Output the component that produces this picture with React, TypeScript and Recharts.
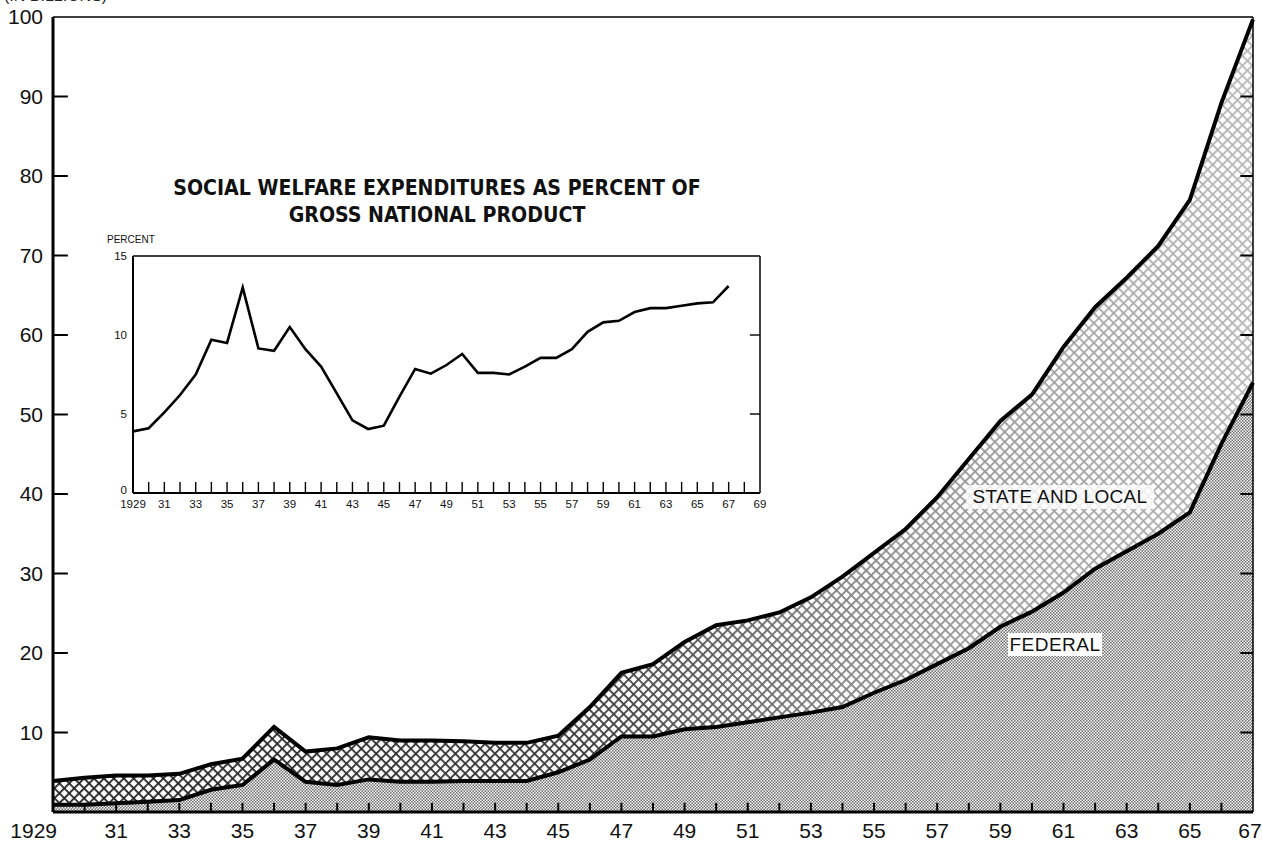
import React from 'react';
import {
  ComposedChart,
  LineChart,
  Area,
  Line,
  XAxis,
  YAxis,
  ReferenceLine,
} from 'recharts';

// 1929 .. 1967
const YEARS = [
  1929, 1930, 1931, 1932, 1933, 1934, 1935, 1936, 1937, 1938, 1939, 1940, 1941,
  1942, 1943, 1944, 1945, 1946, 1947, 1948, 1949, 1950, 1951, 1952, 1953, 1954,
  1955, 1956, 1957, 1958, 1959, 1960, 1961, 1962, 1963, 1964, 1965, 1966, 1967,
];

// billions of dollars, federal + state and local
const TOTAL = [
  3.9, 4.3, 4.6, 4.6, 4.8, 6.0, 6.7, 10.7, 7.6, 8.0, 9.4, 9.0, 9.0, 8.9, 8.7,
  8.7, 9.6, 13.2, 17.5, 18.6, 21.4, 23.5, 24.1, 25.1, 27.0, 29.6, 32.6, 35.6,
  39.6, 44.4, 49.2, 52.5, 58.5, 63.5, 67.2, 71.2, 77.0, 89.2, 99.7,
];

const FEDERAL = [
  0.9, 0.9, 1.1, 1.3, 1.5, 2.8, 3.4, 6.6, 3.8, 3.4, 4.1, 3.8, 3.8, 3.9, 3.9,
  3.9, 5.0, 6.6, 9.5, 9.5, 10.4, 10.7, 11.3, 11.9, 12.5, 13.2, 15.0, 16.6, 18.6,
  20.6, 23.3, 25.2, 27.6, 30.6, 32.8, 35.0, 37.7, 46.3, 54.0,
];

// inset: percent of GNP
const GNP_PCT = [
  3.9, 4.1, 5.1, 6.2, 7.5, 9.7, 9.5, 13.0, 9.15, 9.0, 10.5, 9.1, 8.0, 6.3, 4.6,
  4.05, 4.26, 6.1, 7.85, 7.55, 8.1, 8.8, 7.6, 7.6, 7.5, 8.0, 8.55, 8.55, 9.1,
  10.2, 10.8, 10.9, 11.45, 11.7, 11.7, 11.85, 12.0, 12.07, 13.1,
];

const MAIN_Y_TICKS = [10, 20, 30, 40, 50, 60, 70, 80, 90, 100];
const MAIN_INNER_Y = [10, 20, 30, 40, 50, 60, 70, 80, 90];
const MAIN_INNER_X = YEARS.slice(1, -1);
const INSET_Y_TICKS = [0, 5, 10, 15];
const INSET_INNER_Y = [5, 10];
const INSET_X_TICKS = Array.from({ length: 41 }, (_, i) => 1929 + i);
const INSET_INNER_X = INSET_X_TICKS.slice(1, -1);

const mainData = YEARS.map((year, i) => ({
  year,
  total: TOTAL[i],
  federal: FEDERAL[i],
}));

const insetData = YEARS.map((year, i) => ({ year, pct: GNP_PCT[i] }));

const FONT = '"Liberation Sans", Arial, sans-serif';

function MainXTick(props: any) {
  const { x, y, payload } = props;
  const yr = payload.value as number;
  if (yr % 2 === 0) return <g />;
  let anchor: 'end' | 'middle' = 'middle';
  let tx = x;
  if (yr === 1929) {
    anchor = 'end';
    tx = x + 4;
  }
  if (yr === 1967) tx = x - 3;
  return (
    <text x={tx} y={y + 26} textAnchor={anchor} fontFamily={FONT} fontSize={21} fill="#111">
      {yr === 1929 ? '1929' : String(yr).slice(2)}
    </text>
  );
}

function MainYTick(props: any) {
  const { x, y, payload } = props;
  return (
    <text x={x - 10} y={y + 7} textAnchor="end" fontFamily={FONT} fontSize={21} fill="#111">
      {payload.value}
    </text>
  );
}

function InsetXTick(props: any) {
  const { x, y, payload } = props;
  const yr = payload.value as number;
  if (yr % 2 === 0) return <g />;
  return (
    <text x={x} y={y + 15} textAnchor="middle" fontFamily={FONT} fontSize={11.5} fill="#111">
      {yr === 1929 ? '1929' : String(yr).slice(2)}
    </text>
  );
}

function InsetYTick(props: any) {
  const { x, y, payload } = props;
  return (
    <text x={x - 6} y={y + (payload.value === 0 ? 1 : 4)} textAnchor="end" fontFamily={FONT} fontSize={11.5} fill="#111">
      {payload.value}
    </text>
  );
}

export default function App() {
  return (
    <div style={{ position: 'absolute', left: 0, top: 0, width: 1262, height: 842, background: '#fff', overflow: 'hidden' }}>
      <div
        style={{
          position: 'absolute',
          left: 4,
          top: -13,
          fontFamily: FONT,
          fontSize: 16,
          color: '#222',
        }}
      >
        (IN BILLIONS)
      </div>

      <ComposedChart
        width={1262}
        height={842}
        data={mainData}
        margin={{ top: 17, right: 9, bottom: 0, left: 0 }}
      >
        <defs>
          <pattern id="fedDots" width="3" height="3" patternUnits="userSpaceOnUse">
            <rect width="3" height="3" fill="#f8f8f8" />
            <rect x="0" y="0" width="1.5" height="1.5" fill="#6e6e6e" />
            <rect x="1.5" y="1.5" width="1.5" height="1.5" fill="#6e6e6e" />
          </pattern>
          <pattern
            id="crossHatch"
            width="7"
            height="7"
            patternUnits="userSpaceOnUse"
            patternTransform="rotate(45)"
          >
            <rect width="7" height="7" fill="#fff" />
            <rect x="0" y="0" width="7" height="1.8" fill="#222" />
            <rect x="0" y="0" width="1.8" height="7" fill="#222" />
          </pattern>
          <linearGradient id="fadeRight" x1="0" y1="0" x2="1" y2="0">
            <stop offset="0" stopColor="#fff" stopOpacity={0} />
            <stop offset="0.45" stopColor="#fff" stopOpacity={0.1} />
            <stop offset="0.7" stopColor="#fff" stopOpacity={0.5} />
            <stop offset="1" stopColor="#fff" stopOpacity={0.68} />
          </linearGradient>
        </defs>

        <XAxis
          dataKey="year"
          type="number"
          domain={[1929, 1967]}
          ticks={YEARS}
          interval={0}
          height={30}
          tickSize={0}
          tickMargin={0}
          tick={<MainXTick />}
          tickLine={false}
          axisLine={false}
        />
        <YAxis
          type="number"
          domain={[0, 100]}
          ticks={MAIN_Y_TICKS}
          interval={0}
          width={53}
          tickSize={0}
          tickMargin={0}
          tick={<MainYTick />}
          tickLine={false}
          axisLine={false}
        />

        <Area
          dataKey="federal"
          type="linear"
          stroke="none"
          fill="url(#fedDots)"
          fillOpacity={1}
          isAnimationActive={false}
        />
        <Area
          dataKey={(d: any) => [d.federal, d.total]}
          type="linear"
          stroke="none"
          fill="url(#crossHatch)"
          fillOpacity={1}
          isAnimationActive={false}
        />
        <Area
          dataKey={(d: any) => [d.federal, d.total]}
          type="linear"
          stroke="none"
          fill="url(#fadeRight)"
          fillOpacity={1}
          isAnimationActive={false}
        />
        <Line
          dataKey="total"
          type="linear"
          stroke="#000"
          strokeWidth={4}
          dot={false}
          isAnimationActive={false}
        />
        <Line
          dataKey="federal"
          type="linear"
          stroke="#000"
          strokeWidth={4}
          dot={false}
          isAnimationActive={false}
        />

        {/* frame */}
        <ReferenceLine y={100} stroke="#000" strokeWidth={1.5} />
        <ReferenceLine x={1967} stroke="#000" strokeWidth={1.5} />
        <ReferenceLine x={1929} stroke="#000" strokeWidth={3} />
        <ReferenceLine y={0} stroke="#000" strokeWidth={3} />

        {/* inward tick marks */}
        {MAIN_INNER_X.map((yr) => (
          <ReferenceLine
            key={`bx-${yr}`}
            segment={[{ x: yr, y: 0 }, { x: yr, y: 1.15 }]}
            stroke="#000"
            strokeWidth={2}
          />
        ))}
        {MAIN_INNER_Y.map((v) => (
          <ReferenceLine
            key={`ly-${v}`}
            segment={[{ x: 1929, y: v }, { x: 1929.47, y: v }]}
            stroke="#000"
            strokeWidth={2}
          />
        ))}
        {MAIN_INNER_Y.map((v) => (
          <ReferenceLine
            key={`ry-${v}`}
            segment={[{ x: 1966.6, y: v }, { x: 1967, y: v }]}
            stroke="#000"
            strokeWidth={2}
          />
        ))}
      </ComposedChart>

      <div
        style={{
          position: 'absolute',
          left: 1008,
          top: 633,
          width: 94,
          height: 23,
          background: '#fff',
          fontFamily: FONT,
          fontSize: 19,
          lineHeight: '23px',
          textAlign: 'center',
          letterSpacing: 0.5,
          color: '#111',
        }}
      >
        FEDERAL
      </div>
      <div
        style={{
          position: 'absolute',
          left: 966,
          top: 485,
          width: 188,
          height: 24,
          background: 'rgba(255,255,255,0.8)',
          fontFamily: FONT,
          fontSize: 19,
          lineHeight: '24px',
          textAlign: 'center',
          letterSpacing: 0.3,
          color: '#111',
        }}
      >
        STATE AND LOCAL
      </div>

      <div
        style={{
          position: 'absolute',
          left: 137,
          top: 174,
          width: 600,
          textAlign: 'center',
          fontFamily: '"DejaVu Sans Condensed", "Liberation Sans Narrow", Arial, sans-serif',
          fontWeight: 700,
          fontSize: 22,
          lineHeight: '27px',
          color: '#111',
          transform: 'scaleX(0.96)',
        }}
      >
        SOCIAL WELFARE EXPENDITURES AS PERCENT OF
        <br />
        GROSS NATIONAL PRODUCT
      </div>
      <div
        style={{
          position: 'absolute',
          left: 107,
          top: 234,
          fontFamily: FONT,
          fontSize: 10,
          color: '#111',
        }}
      >
        PERCENT
      </div>

      <div style={{ position: 'absolute', left: 90, top: 240 }}>
        <LineChart
          width={680}
          height={280}
          data={insetData}
          margin={{ top: 16, right: 10, bottom: 0, left: 0 }}
        >
          <XAxis
            dataKey="year"
            type="number"
            domain={[1929, 1969]}
            ticks={INSET_X_TICKS}
            interval={0}
            height={27}
            tickSize={0}
            tickMargin={0}
            tick={<InsetXTick />}
            tickLine={false}
            axisLine={false}
          />
          <YAxis
            type="number"
            domain={[0, 15]}
            ticks={INSET_Y_TICKS}
            interval={0}
            width={43}
            tickSize={0}
            tickMargin={0}
            tick={<InsetYTick />}
            tickLine={false}
            axisLine={false}
          />
          <Line
            dataKey="pct"
            type="linear"
            stroke="#000"
            strokeWidth={2.6}
            dot={false}
            isAnimationActive={false}
          />
          <ReferenceLine y={15} stroke="#000" strokeWidth={1.3} />
          <ReferenceLine x={1969} stroke="#000" strokeWidth={1.5} />
          <ReferenceLine x={1929} stroke="#000" strokeWidth={2} />
          <ReferenceLine y={0} stroke="#000" strokeWidth={2} />
          {INSET_INNER_X.map((yr) => (
            <ReferenceLine
              key={`ix-${yr}`}
              segment={[{ x: yr, y: 0 }, { x: yr, y: 0.7 }]}
              stroke="#000"
              strokeWidth={1.4}
            />
          ))}
          {INSET_INNER_Y.map((v) => (
            <ReferenceLine
              key={`iy-${v}`}
              segment={[{ x: 1968.35, y: v }, { x: 1969, y: v }]}
              stroke="#000"
              strokeWidth={1.4}
            />
          ))}
        </LineChart>
      </div>
    </div>
  );
}
